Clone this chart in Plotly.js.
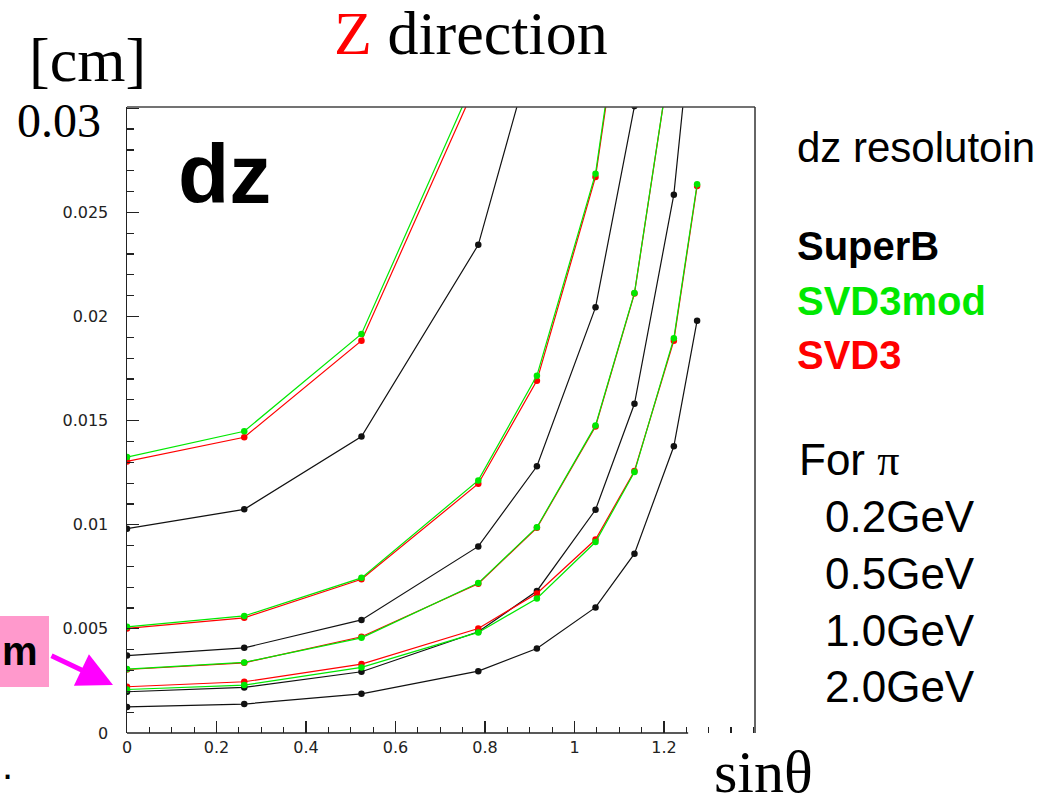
<!DOCTYPE html>
<html>
<head>
<meta charset="utf-8">
<script src="https://cdn.plot.ly/plotly-3.0.1.min.js"></script>
<style>html,body{margin:0;padding:0;background:#fff;}#chart{width:1055px;height:807px;}</style>
</head>
<body>
<div id="chart"></div>
<script>
// sin(theta) sample points (x axis)
const sinTheta = [0, 0.262, 0.524, 0.785, 0.916, 1.047, 1.134, 1.222, 1.274];

// dz resolution [cm] for pions, per detector and momentum
const superB_02GeV  = [0.00981, 0.01074, 0.01424, 0.02344, 0.0335, null, null, null, null];
const superB_05GeV  = [0.00372, 0.00409, 0.00543, 0.00896, 0.01281, 0.02044, 0.0301, 0.0398, null];
const superB_10GeV  = [0.00198, 0.00219, 0.00294, 0.00486, 0.00682, 0.01072, 0.01581, 0.02585, 0.0368];
const superB_20GeV  = [0.00125, 0.00139, 0.00188, 0.00297, 0.00406, 0.00603, 0.00861, 0.01377, 0.0198];

const svd3_02GeV    = [0.01304, 0.0142, 0.01884, 0.0314, null, null, null, null, null];
const svd3_05GeV    = [0.00502, 0.00553, 0.00738, 0.01197, 0.01692, 0.0267, 0.0395, null, null];
const svd3_10GeV    = [0.00305, 0.00337, 0.00462, 0.00717, 0.00985, 0.01472, 0.0211, 0.0335, null];
const svd3_20GeV    = [0.00222, 0.00246, 0.00331, 0.00502, 0.0067, 0.00929, 0.01258, 0.01884, 0.02627];

const svd3mod_02GeV = [0.01325, 0.01449, 0.01916, 0.0318, null, null, null, null, null];
const svd3mod_05GeV = [0.0051, 0.00562, 0.00745, 0.01213, 0.01716, 0.02686, 0.0398, null, null];
const svd3mod_10GeV = [0.00307, 0.00339, 0.00457, 0.0072, 0.00988, 0.01477, 0.02113, 0.03353, null];
const svd3mod_20GeV = [0.00209, 0.0023, 0.00315, 0.00483, 0.00646, 0.00917, 0.01253, 0.01895, 0.02635];

const yTickVals = [0, 0.005, 0.01, 0.015, 0.02, 0.025, 0.03];
const yTickText = ['0', '0.005', '0.01', '0.015', '0.02', '0.025', ''];
const xTickVals = [0, 0.2, 0.4, 0.6, 0.8, 1, 1.2];
const xTickText = ['0', '0.2', '0.4', '0.6', '0.8', '1', '1.2'];

const BLACK = '#111111', RED = '#ff0000', GREEN = '#00e800';

function series(y, color, name) {
  return {
    x: sinTheta, y: y, name: name, type: 'scatter', mode: 'lines+markers',
    line: {color: color, width: 1.2},
    marker: {color: color, size: 6.5, symbol: 'circle'},
    connectgaps: false, showlegend: false, hoverinfo: 'skip'
  };
}

const traces = [
  series(superB_02GeV, BLACK, 'SuperB 0.2GeV'),
  series(superB_05GeV, BLACK, 'SuperB 0.5GeV'),
  series(superB_10GeV, BLACK, 'SuperB 1.0GeV'),
  series(superB_20GeV, BLACK, 'SuperB 2.0GeV'),
  series(svd3_02GeV, RED, 'SVD3 0.2GeV'),
  series(svd3_05GeV, RED, 'SVD3 0.5GeV'),
  series(svd3_10GeV, RED, 'SVD3 1.0GeV'),
  series(svd3_20GeV, RED, 'SVD3 2.0GeV'),
  series(svd3mod_02GeV, GREEN, 'SVD3mod 0.2GeV'),
  series(svd3mod_05GeV, GREEN, 'SVD3mod 0.5GeV'),
  series(svd3mod_10GeV, GREEN, 'SVD3mod 1.0GeV'),
  series(svd3mod_20GeV, GREEN, 'SVD3mod 2.0GeV')
];

// pixel -> paper helpers (plot area: x 127..755, y 107..733)
const L = 127, R = 755, T = 107, B = 733;
const px = v => (v - L) / (R - L);
const py = v => (B - v) / (B - T);

const SERIF = 'Liberation Serif, Times New Roman, serif';
const SANS = 'Liberation Sans, Arial, sans-serif';

function txt(text, x, y, size, opts) {
  opts = opts || {};
  return Object.assign({
    text: text, xref: 'paper', yref: 'paper', x: px(x), y: py(y),
    xanchor: opts.xanchor || 'center', yanchor: 'middle', showarrow: false,
    font: {family: opts.family || SANS, size: size, color: opts.color || '#000'}
  }, opts.extra || {});
}

const annotations = [
  txt('<span style="color:#ff0000">Z</span> direction', 471, 33, 62, {family: SERIF}),
  txt('[cm]', 87, 60, 62, {family: SERIF}),
  txt('0.03', 59, 120, 48, {family: SERIF}),
  txt('sinθ', 763, 772, 60, {family: SERIF}),
  txt('<b>dz</b>', 224, 174, 84),
  txt('dz resolutoin', 795, 147, 42, {xanchor: 'left'}),
  txt('<b>SuperB</b>', 795, 246, 40, {xanchor: 'left'}),
  txt('<b>SVD3mod</b>', 795, 301, 40, {xanchor: 'left', color: GREEN}),
  txt('<b>SVD3</b>', 795, 355, 40, {xanchor: 'left', color: RED}),
  txt('For <span style="font-family:Liberation Serif">π</span>', 797, 460, 44, {xanchor: 'left'}),
  txt('0.2GeV', 823, 516, 44, {xanchor: 'left'}),
  txt('0.5GeV', 823, 573, 44, {xanchor: 'left'}),
  txt('1.0GeV', 823, 630, 44, {xanchor: 'left'}),
  txt('2.0GeV', 823, 686, 44, {xanchor: 'left'}),
  txt('<b>m</b>', 0, 651, 40, {xanchor: 'left'}),
  txt('.', 0, 765, 40, {xanchor: 'left'}),
  {
    text: '', xref: 'paper', yref: 'paper', x: px(113), y: py(685),
    showarrow: true, ax: -63, ay: -30, arrowcolor: '#ff00ff',
    arrowwidth: 5, arrowhead: 2, arrowsize: 1.4, standoff: 0
  }
];

const shapes = [
  {type: 'rect', xref: 'paper', yref: 'paper', x0: px(0), x1: px(49), y0: py(687), y1: py(616),
   fillcolor: '#ff99cc', line: {width: 0}, layer: 'below'},
  {type: 'line', xref: 'paper', yref: 'paper', x0: 0, x1: 1, y0: 1, y1: 1, line: {color: '#444', width: 1.5}},
  {type: 'line', xref: 'paper', yref: 'paper', x0: 1, x1: 1, y0: 0, y1: 1, line: {color: '#333', width: 1.5}},
  {type: 'line', xref: 'x', yref: 'paper', x0: 0, x1: 1.254, y0: 0, y1: 0, line: {color: '#222', width: 1.5}}
];

const layout = {
  width: 1055, height: 807,
  margin: {l: L, r: 1055 - R, t: T, b: 807 - B, pad: 0},
  paper_bgcolor: '#ffffff', plot_bgcolor: '#ffffff',
  showlegend: false,
  xaxis: {
    range: [0, 1.4034], showgrid: false, zeroline: false, showline: false,
    tickmode: 'array', tickvals: xTickVals, ticktext: xTickText,
    ticks: 'inside', ticklen: 12, tickwidth: 1.2, tickcolor: '#222',
    minor: {tickmode: 'linear', tick0: 0, dtick: 0.05, ticks: 'inside', ticklen: 6, tickwidth: 1.2, tickcolor: '#222', showgrid: false},
    tickfont: {family: 'DejaVu Sans, sans-serif', size: 16, color: '#222'},
    ticklabelstandoff: 3
  },
  yaxis: {
    range: [0, 0.03006], showgrid: false, zeroline: false,
    showline: true, linecolor: '#222', linewidth: 1.5,
    tickmode: 'array', tickvals: yTickVals, ticktext: yTickText,
    ticks: 'inside', ticklen: 12, tickwidth: 1.2, tickcolor: '#222',
    minor: {tickmode: 'linear', tick0: 0, dtick: 0.001, ticks: 'inside', ticklen: 7, tickwidth: 1.2, tickcolor: '#222', showgrid: false},
    tickfont: {family: 'DejaVu Sans, sans-serif', size: 16, color: '#222'},
    ticklabelstandoff: 14
  },
  annotations: annotations,
  shapes: shapes
};

Plotly.newPlot('chart', traces, layout, {displayModeBar: false, staticPlot: true});
</script>
</body>
</html>
